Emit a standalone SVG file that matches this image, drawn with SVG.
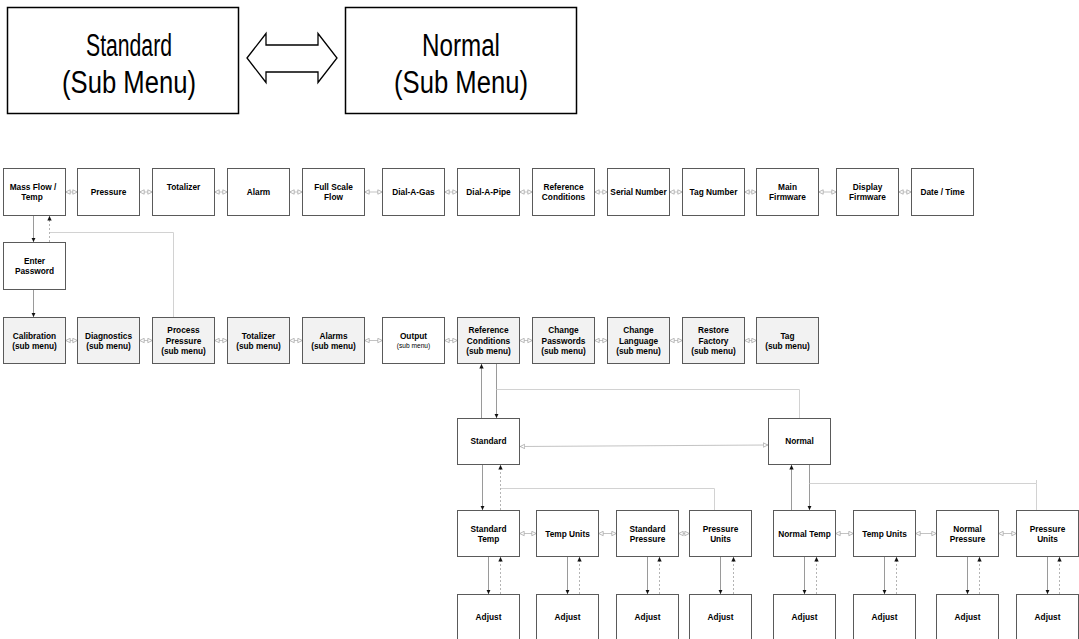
<svg xmlns="http://www.w3.org/2000/svg" width="1079" height="639" viewBox="0 0 1079 639">
<style>
.bg{fill:#fff}
.box{fill:#fff;stroke:#5a5a5a;stroke-width:1}
.sub{fill:#f2f2f2}
.big{fill:#fff;stroke:#000;stroke-width:1.5}
.t{font-family:"Liberation Sans",Arial,sans-serif;font-weight:bold;font-size:8.3px;text-anchor:middle;fill:#000}
.ts{font-family:"Liberation Sans",Arial,sans-serif;font-size:6.6px;text-anchor:middle;fill:#000}
.bt{font-family:"Liberation Sans",Arial,sans-serif;font-size:31px;text-anchor:middle;fill:#000}
.row{stroke:#b4b4b4;stroke-width:0.8;fill:none;marker-start:url(#oa);marker-end:url(#oa)}
.sol{stroke:#9a9a9a;stroke-width:1;fill:none;marker-end:url(#ah)}
.dot{stroke:#b4b4b4;stroke-width:1;fill:none;stroke-dasharray:2 2;marker-end:url(#ah)}
.gl{stroke:#d2d2d2;stroke-width:1;fill:none}
</style>
<defs>
<marker id="ah" markerUnits="userSpaceOnUse" markerWidth="5" markerHeight="5" refX="4.5" refY="2.5" orient="auto"><path d="M0,0.3 L4.5,2.5 L0,4.7 z" fill="#111"/></marker>
<marker id="oa" markerUnits="userSpaceOnUse" markerWidth="6" markerHeight="6" refX="5.2" refY="3" orient="auto-start-reverse"><path d="M0.5,0.8 L5,3 L0.5,5.2 z" fill="#fff" stroke="#a8a8a8" stroke-width="0.8"/></marker>
</defs>
<rect class="bg" x="0" y="0" width="1079" height="639"/>

<g id="legend-standard">
<rect class="big" x="7.5" y="7.5" width="231" height="106"/>
<text class="bt" x="129" y="56" textLength="86" lengthAdjust="spacingAndGlyphs">Standard</text>
<text class="bt" x="129" y="93" textLength="134" lengthAdjust="spacingAndGlyphs">(Sub Menu)</text>
</g>
<g id="legend-normal">
<rect class="big" x="345.5" y="7.5" width="231" height="106"/>
<text class="bt" x="461" y="56" textLength="78" lengthAdjust="spacingAndGlyphs">Normal</text>
<text class="bt" x="461" y="93" textLength="134" lengthAdjust="spacingAndGlyphs">(Sub Menu)</text>
</g>
<g id="legend-arrow">
<path d="M247,58 L266,33.5 L266,45 L318,45 L318,33.5 L337,58 L318,82.5 L318,72 L266,72 L266,82.5 Z" fill="#fff" stroke="#000" stroke-width="1.3" stroke-linejoin="miter"/>
</g>

<g id="connectors">
<line class="row" x1="65.5" y1="192" x2="77.5" y2="192"/>
<line class="row" x1="139.5" y1="192" x2="152.5" y2="192"/>
<line class="row" x1="214.5" y1="192" x2="227.5" y2="192"/>
<line class="row" x1="289.5" y1="192" x2="302.5" y2="192"/>
<line class="row" x1="364.5" y1="192" x2="382.5" y2="192"/>
<line class="row" x1="444.5" y1="192" x2="457.5" y2="192"/>
<line class="row" x1="519.5" y1="192" x2="532.5" y2="192"/>
<line class="row" x1="594.5" y1="192" x2="607.5" y2="192"/>
<line class="row" x1="669.5" y1="192" x2="682.5" y2="192"/>
<line class="row" x1="744.5" y1="192" x2="756.5" y2="192"/>
<line class="row" x1="818.5" y1="192" x2="836.5" y2="192"/>
<line class="row" x1="898.5" y1="192" x2="911.5" y2="192"/>
<line class="row" x1="65.5" y1="340.5" x2="77.5" y2="340.5"/>
<line class="row" x1="139.5" y1="340.5" x2="152.5" y2="340.5"/>
<line class="row" x1="214.5" y1="340.5" x2="227.5" y2="340.5"/>
<line class="row" x1="289.5" y1="340.5" x2="302.5" y2="340.5"/>
<line class="row" x1="364.5" y1="340.5" x2="382.5" y2="340.5"/>
<line class="row" x1="444.5" y1="340.5" x2="457.5" y2="340.5"/>
<line class="row" x1="519.5" y1="340.5" x2="532.5" y2="340.5"/>
<line class="row" x1="594.5" y1="340.5" x2="607.5" y2="340.5"/>
<line class="row" x1="669.5" y1="340.5" x2="682.5" y2="340.5"/>
<line class="row" x1="744.5" y1="340.5" x2="756.5" y2="340.5"/>
<line class="sol" x1="33.5" y1="215.5" x2="33.5" y2="242"/>
<line class="dot" x1="49.5" y1="242" x2="49.5" y2="216"/>
<polyline class="gl" points="173.5,317 173.5,232.5 50,232.5"/>
<line class="sol" x1="33.5" y1="289.5" x2="33.5" y2="317"/>
<line class="sol" x1="481.5" y1="418" x2="481.5" y2="364"/>
<line class="sol" x1="496.5" y1="364" x2="496.5" y2="418"/>
<polyline class="gl" points="496.5,389.5 799.5,389.5 799.5,418"/>
<line class="row" x1="520" y1="446.5" x2="768" y2="445"/>
<line class="sol" x1="482.5" y1="465" x2="482.5" y2="510"/>
<line class="dot" x1="500.5" y1="510" x2="500.5" y2="465"/>
<polyline class="gl" points="501,488.5 714.5,488.5 714.5,510"/>
<line class="sol" x1="791.5" y1="510" x2="791.5" y2="465"/>
<line class="sol" x1="809.5" y1="465" x2="809.5" y2="510"/>
<polyline class="gl" points="809.5,483.5 1036.5,483.5 1036.5,510"/>
<line class="gl" x1="1036.5" y1="480" x2="1036.5" y2="483.5"/>
<line class="row" x1="519.5" y1="533.5" x2="536.5" y2="533.5"/>
<line class="row" x1="598.5" y1="533.5" x2="616.5" y2="533.5"/>
<line class="row" x1="678.5" y1="533.5" x2="689.5" y2="533.5"/>
<line class="row" x1="835.5" y1="533.5" x2="853.5" y2="533.5"/>
<line class="row" x1="915.5" y1="533.5" x2="936.5" y2="533.5"/>
<line class="row" x1="998.5" y1="533.5" x2="1016.5" y2="533.5"/>
<line class="sol" x1="488.5" y1="557" x2="488.5" y2="594"/>
<line class="dot" x1="500.5" y1="594" x2="500.5" y2="557"/>
<line class="sol" x1="567.5" y1="557" x2="567.5" y2="594"/>
<line class="dot" x1="579.5" y1="594" x2="579.5" y2="557"/>
<line class="sol" x1="647.5" y1="557" x2="647.5" y2="594"/>
<line class="dot" x1="659.5" y1="594" x2="659.5" y2="557"/>
<line class="sol" x1="720.5" y1="557" x2="720.5" y2="594"/>
<line class="dot" x1="733.5" y1="594" x2="733.5" y2="557"/>
<line class="sol" x1="804.5" y1="557" x2="804.5" y2="594"/>
<line class="dot" x1="816.5" y1="594" x2="816.5" y2="557"/>
<line class="sol" x1="884.5" y1="557" x2="884.5" y2="594"/>
<line class="dot" x1="896.5" y1="594" x2="896.5" y2="557"/>
<line class="sol" x1="967.5" y1="557" x2="967.5" y2="594"/>
<line class="dot" x1="979.5" y1="594" x2="979.5" y2="557"/>
<line class="sol" x1="1047.5" y1="557" x2="1047.5" y2="594"/>
<line class="dot" x1="1059.5" y1="594" x2="1059.5" y2="557"/>
</g>

<g id="n-massflow"><rect class="box" x="3.5" y="168.5" width="62" height="47"/><text class="t" x="33" y="189.5">Mass Flow /</text><text class="t" x="32" y="199.5">Temp</text></g>
<g id="n-pressure"><rect class="box" x="77.5" y="168.5" width="62" height="47"/><text class="t" x="108.5" y="195">Pressure</text></g>
<g id="n-totalizer"><rect class="box" x="152.5" y="168.5" width="62" height="47"/><text class="t" x="183.5" y="189.5">Totalizer</text></g>
<g id="n-alarm"><rect class="box" x="227.5" y="168.5" width="62" height="47"/><text class="t" x="258.5" y="195">Alarm</text></g>
<g id="n-fullscale"><rect class="box" x="302.5" y="168.5" width="62" height="47"/><text class="t" x="333.5" y="189.5">Full Scale</text><text class="t" x="333.5" y="199.5">Flow</text></g>
<g id="n-dialgas"><rect class="box" x="382.5" y="168.5" width="62" height="47"/><text class="t" x="413.5" y="195">Dial-A-Gas</text></g>
<g id="n-dialpipe"><rect class="box" x="457.5" y="168.5" width="62" height="47"/><text class="t" x="488.5" y="195">Dial-A-Pipe</text></g>
<g id="n-refcond"><rect class="box" x="532.5" y="168.5" width="62" height="47"/><text class="t" x="563.5" y="189.5">Reference</text><text class="t" x="563.5" y="199.5">Conditions</text></g>
<g id="n-serial"><rect class="box" x="607.5" y="168.5" width="62" height="47"/><text class="t" x="638.5" y="195">Serial Number</text></g>
<g id="n-tagnum"><rect class="box" x="682.5" y="168.5" width="62" height="47"/><text class="t" x="713.5" y="195">Tag Number</text></g>
<g id="n-mainfw"><rect class="box" x="756.5" y="168.5" width="62" height="47"/><text class="t" x="787.5" y="189.5">Main</text><text class="t" x="787.5" y="199.5">Firmware</text></g>
<g id="n-dispfw"><rect class="box" x="836.5" y="168.5" width="62" height="47"/><text class="t" x="867.5" y="189.5">Display</text><text class="t" x="867.5" y="199.5">Firmware</text></g>
<g id="n-datetime"><rect class="box" x="911.5" y="168.5" width="62" height="47"/><text class="t" x="942.5" y="195">Date / Time</text></g>

<g id="n-password"><rect class="box" x="3.5" y="242.5" width="62" height="47"/><text class="t" x="34.5" y="264">Enter</text><text class="t" x="34.5" y="274">Password</text></g>

<g id="n-calibration"><rect class="box sub" x="3.5" y="317.5" width="62" height="46"/><text class="t" x="34.5" y="338.5">Calibration</text><text class="t" x="34.5" y="348.5">(sub menu)</text></g>
<g id="n-diagnostics"><rect class="box sub" x="77.5" y="317.5" width="62" height="46"/><text class="t" x="108.5" y="338.5">Diagnostics</text><text class="t" x="108.5" y="348.5">(sub menu)</text></g>
<g id="n-procpress"><rect class="box sub" x="152.5" y="317.5" width="62" height="46"/><text class="t" x="183.5" y="333">Process</text><text class="t" x="183.5" y="343.5">Pressure</text><text class="t" x="183.5" y="354">(sub menu)</text></g>
<g id="n-totsub"><rect class="box sub" x="227.5" y="317.5" width="62" height="46"/><text class="t" x="258.5" y="338.5">Totalizer</text><text class="t" x="258.5" y="348.5">(sub menu)</text></g>
<g id="n-alarmsub"><rect class="box sub" x="302.5" y="317.5" width="62" height="46"/><text class="t" x="333.5" y="338.5">Alarms</text><text class="t" x="333.5" y="348.5">(sub menu)</text></g>
<g id="n-output"><rect class="box" x="382.5" y="317.5" width="62" height="46"/><text class="t" x="413.5" y="338.5">Output</text><text class="ts" x="413.5" y="348">(sub menu)</text></g>
<g id="n-refsub"><rect class="box sub" x="457.5" y="317.5" width="62" height="46"/><text class="t" x="488.5" y="333">Reference</text><text class="t" x="488.5" y="343.5">Conditions</text><text class="t" x="488.5" y="354">(sub menu)</text></g>
<g id="n-changepw"><rect class="box sub" x="532.5" y="317.5" width="62" height="46"/><text class="t" x="563.5" y="333">Change</text><text class="t" x="563.5" y="343.5">Passwords</text><text class="t" x="563.5" y="354">(sub menu)</text></g>
<g id="n-changelang"><rect class="box sub" x="607.5" y="317.5" width="62" height="46"/><text class="t" x="638.5" y="333">Change</text><text class="t" x="638.5" y="343.5">Language</text><text class="t" x="638.5" y="354">(sub menu)</text></g>
<g id="n-restore"><rect class="box sub" x="682.5" y="317.5" width="62" height="46"/><text class="t" x="713.5" y="333">Restore</text><text class="t" x="713.5" y="343.5">Factory</text><text class="t" x="713.5" y="354">(sub menu)</text></g>
<g id="n-tagsub"><rect class="box sub" x="756.5" y="317.5" width="62" height="46"/><text class="t" x="787.5" y="338.5">Tag</text><text class="t" x="787.5" y="348.5">(sub menu)</text></g>

<g id="n-standard"><rect class="box" x="457.5" y="418.5" width="62" height="46"/><text class="t" x="488.5" y="444">Standard</text></g>
<g id="n-normal"><rect class="box" x="768.5" y="418.5" width="62" height="46"/><text class="t" x="799.5" y="444">Normal</text></g>

<g id="n-stdtemp"><rect class="box" x="457.5" y="510.5" width="62" height="46"/><text class="t" x="488.5" y="531.5">Standard</text><text class="t" x="488.5" y="541.5">Temp</text></g>
<g id="n-stdtempunits"><rect class="box" x="536.5" y="510.5" width="62" height="46"/><text class="t" x="567.5" y="536.5">Temp Units</text></g>
<g id="n-stdpress"><rect class="box" x="616.5" y="510.5" width="62" height="46"/><text class="t" x="647.5" y="531.5">Standard</text><text class="t" x="647.5" y="541.5">Pressure</text></g>
<g id="n-stdpressunits"><rect class="box" x="689.5" y="510.5" width="62" height="46"/><text class="t" x="720.5" y="531.5">Pressure</text><text class="t" x="720.5" y="541.5">Units</text></g>
<g id="n-normtemp"><rect class="box" x="773.5" y="510.5" width="62" height="46"/><text class="t" x="804.5" y="536.5">Normal Temp</text></g>
<g id="n-normtempunits"><rect class="box" x="853.5" y="510.5" width="62" height="46"/><text class="t" x="884.5" y="536.5">Temp Units</text></g>
<g id="n-normpress"><rect class="box" x="936.5" y="510.5" width="62" height="46"/><text class="t" x="967.5" y="531.5">Normal</text><text class="t" x="967.5" y="541.5">Pressure</text></g>
<g id="n-normpressunits"><rect class="box" x="1016.5" y="510.5" width="62" height="46"/><text class="t" x="1047.5" y="531.5">Pressure</text><text class="t" x="1047.5" y="541.5">Units</text></g>

<g id="n-adj1"><rect class="box" x="457.5" y="594.5" width="62" height="46"/><text class="t" x="488.5" y="620">Adjust</text></g>
<g id="n-adj2"><rect class="box" x="536.5" y="594.5" width="62" height="46"/><text class="t" x="567.5" y="620">Adjust</text></g>
<g id="n-adj3"><rect class="box" x="616.5" y="594.5" width="62" height="46"/><text class="t" x="647.5" y="620">Adjust</text></g>
<g id="n-adj4"><rect class="box" x="689.5" y="594.5" width="62" height="46"/><text class="t" x="720.5" y="620">Adjust</text></g>
<g id="n-adj5"><rect class="box" x="773.5" y="594.5" width="62" height="46"/><text class="t" x="804.5" y="620">Adjust</text></g>
<g id="n-adj6"><rect class="box" x="853.5" y="594.5" width="62" height="46"/><text class="t" x="884.5" y="620">Adjust</text></g>
<g id="n-adj7"><rect class="box" x="936.5" y="594.5" width="62" height="46"/><text class="t" x="967.5" y="620">Adjust</text></g>
<g id="n-adj8"><rect class="box" x="1016.5" y="594.5" width="62" height="46"/><text class="t" x="1047.5" y="620">Adjust</text></g>
</svg>
